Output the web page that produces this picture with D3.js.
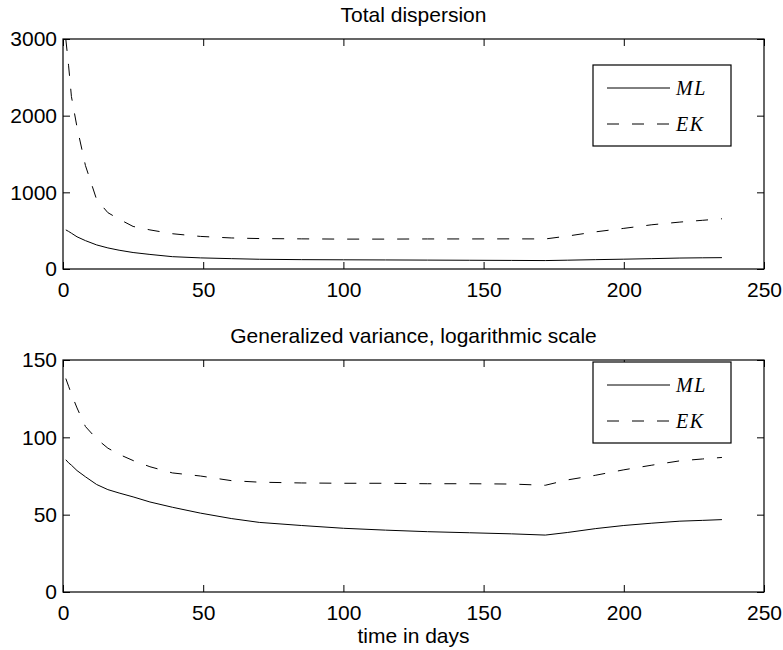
<!DOCTYPE html>
<html>
<head>
<meta charset="utf-8">
<script src="https://cdn.jsdelivr.net/npm/d3@7"></script>
<style>
  body { margin: 0; background: #fff; }
  text { font-family: "Liberation Sans", Arial, sans-serif; fill: #000; }
  .leg { font-family: "Liberation Serif", "DejaVu Serif", serif; font-style: italic; }
</style>
</head>
<body>
<div id="chart"></div>
<script>
const width = 783
const height = 650

// Datos
const days = [1, 2, 3, 5, 8, 12, 16, 20, 25, 31, 39, 49, 60, 70, 85, 100, 115, 130, 145, 160, 172, 180, 190, 200, 210, 220, 228, 235]

const dispML = [510, 490, 467, 420, 370, 314, 275, 245, 215, 190, 161, 145, 135, 127, 122, 120, 118, 116, 114, 112, 110, 115, 122, 128, 135, 143, 146, 148]
const dispEK = [3000, 2650, 2250, 1850, 1350, 905, 735, 650, 555, 510, 460, 425, 405, 397, 393, 390, 390, 392, 392, 393, 392, 430, 485, 530, 577, 612, 635, 655]

const varML = [85.5, 83.5, 82, 78.5, 74.5, 69.5, 66.2, 64, 61.5, 58.2, 54.8, 51, 47.5, 45, 43, 41.2, 40, 39, 38.3, 37.6, 36.8, 38.5, 41, 43, 44.5, 45.8, 46.3, 46.8]
const varEK = [138, 133, 128, 119, 107, 99, 93, 89, 85, 81, 77, 75, 72, 71, 70.5, 70.3, 70.3, 70, 70, 69.8, 69, 72.5, 75.5, 79, 82, 84.8, 86, 87]

const xTicks = [0, 50, 100, 150, 200, 250]
const dispTicks = [0, 1000, 2000, 3000]
const varTicks = [0, 50, 100, 150]
const seriesNames = ["ML", "EK"]

const svg = d3.select("#chart")
  .append("svg")
  .attr("width", width)
  .attr("height", height)

const left = 63
const right = 764
const fontSize = 21
const fmt = d3.format("d")

function panel(top, bottom, title, yMax, yTicks, ml, ek, legTop) {
  const g = svg.append("g")

  const x = d3.scaleLinear().domain([0, 250]).range([left, right])
  const y = d3.scaleLinear().domain([0, yMax]).range([bottom, top])

  // Ejes con ticks hacia dentro
  g.append("g").attr("transform", `translate(0, ${bottom})`)
    .call(d3.axisBottom(x).tickValues(xTicks).tickFormat(fmt).tickSizeInner(-7).tickSizeOuter(0).tickPadding(13))
  g.append("g").attr("transform", `translate(0, ${top})`)
    .call(d3.axisTop(x).tickValues(xTicks).tickSizeInner(-7).tickSizeOuter(0).tickFormat(""))
  g.append("g").attr("transform", `translate(${left}, 0)`)
    .call(d3.axisLeft(y).tickValues(yTicks).tickFormat(fmt).tickSizeInner(-7).tickSizeOuter(0).tickPadding(6))
  g.append("g").attr("transform", `translate(${right}, 0)`)
    .call(d3.axisRight(y).tickValues(yTicks).tickSizeInner(-7).tickSizeOuter(0).tickFormat(""))

  g.selectAll(".domain").remove()
  g.selectAll(".tick line").attr("stroke", "#000")
  g.selectAll(".tick text").attr("font-size", fontSize)

  g.append("rect")
    .attr("x", left).attr("y", top)
    .attr("width", right - left).attr("height", bottom - top)
    .attr("fill", "none").attr("stroke", "#000").attr("stroke-width", 1.2)

  g.append("text")
    .attr("x", (left + right) / 2).attr("y", top - 17)
    .attr("text-anchor", "middle").attr("font-size", fontSize)
    .text(title)

  const line = d3.line().x((d, i) => x(days[i])).y(d => y(d))

  g.append("path").datum(ml)
    .attr("d", line).attr("fill", "none").attr("stroke", "#000").attr("stroke-width", 1)
  g.append("path").datum(ek)
    .attr("d", line).attr("fill", "none").attr("stroke", "#000").attr("stroke-width", 1)
    .attr("stroke-dasharray", "12,13")

  // Leyenda
  const lg = g.append("g").attr("transform", `translate(593, ${legTop})`)
  lg.append("rect").attr("width", 138).attr("height", 81)
    .attr("fill", "#fff").attr("stroke", "#000").attr("stroke-width", 1.2)
  seriesNames.forEach((name, i) => {
    const ly = 23 + i * 36
    lg.append("line").attr("x1", 14).attr("x2", 77).attr("y1", ly).attr("y2", ly)
      .attr("stroke", "#000").attr("stroke-width", 1)
      .attr("stroke-dasharray", i === 1 ? "12,13" : null)
    lg.append("text").attr("class", "leg")
      .attr("x", 83).attr("y", ly + 7)
      .attr("font-size", 20).attr("letter-spacing", 1.5)
      .text(name)
  })
}

panel(39, 269, "Total dispersion", 3000, dispTicks, dispML, dispEK, 65)
panel(360, 592, "Generalized variance, logarithmic scale", 150, varTicks, varML, varEK, 362)

svg.append("text")
  .attr("x", (left + right) / 2).attr("y", 643)
  .attr("text-anchor", "middle").attr("font-size", fontSize)
  .text("time in days")
</script>
</body>
</html>
